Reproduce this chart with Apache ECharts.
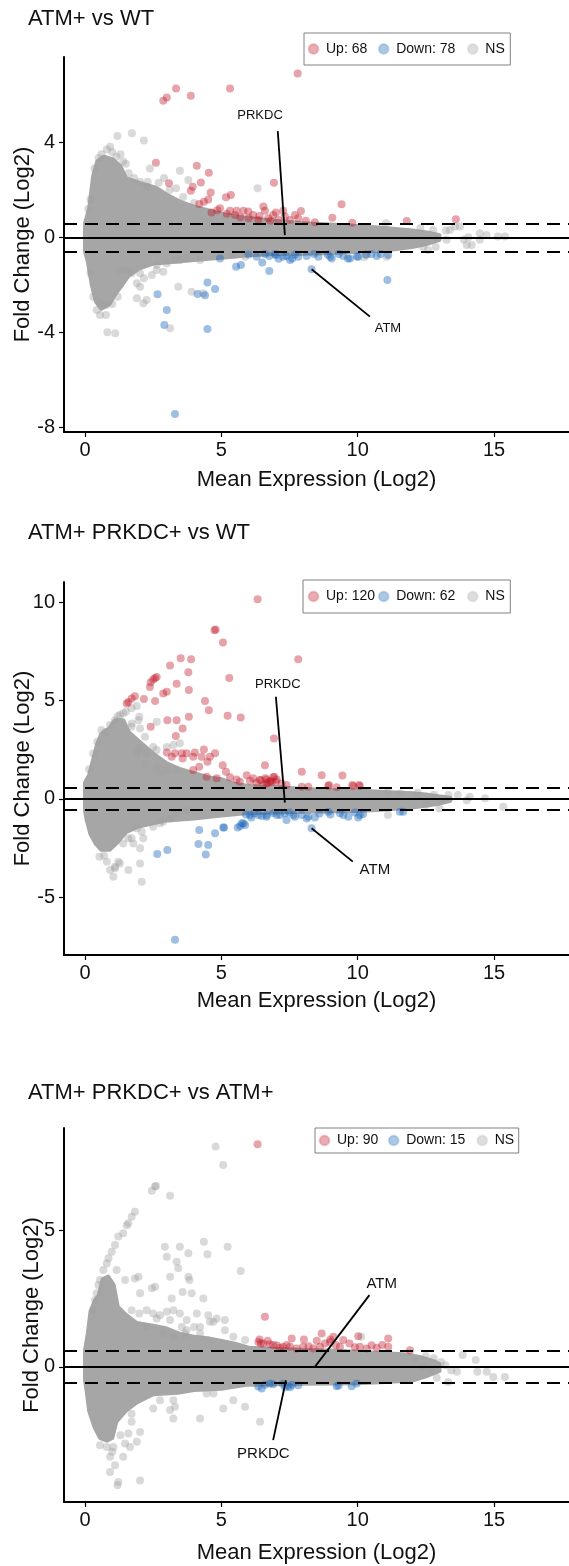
<!DOCTYPE html>
<html>
<head>
<meta charset="utf-8">
<script src="https://cdn.jsdelivr.net/npm/echarts@6/dist/echarts.min.js"></script>
<style>
html,body{margin:0;padding:0;background:#ffffff;}
#chart{width:569px;height:1566px;}
</style>
</head>
<body>
<div id="chart"></div>
<script>
// ---------------- DATA ----------------
const titles = ['ATM+ vs WT', 'ATM+ PRKDC+ vs WT', 'ATM+ PRKDC+ vs ATM+'];
const upLabels = ['Up: 68', 'Up: 120', 'Up: 90'];
const downLabels = ['Down: 78', 'Down: 62', 'Down: 15'];
const nsLabel = 'NS';
const xTicks = [0, 5, 10, 15];
const p1YTicks = [-8, -4, 0, 4];
const p2YTicks = [-5, 0, 5, 10];
const p3YTicks = [0, 5];
const foldThreshold = 0.585;
const geneNames = ['PRKDC', 'ATM'];

// Panel 1: ATM+ vs WT
const p1Up = [[2.87,5.76],[3.0,5.89],[3.34,6.27],[3.88,5.97],[5.32,6.27],[7.8,6.91],
 [2.6,3.15],[4.1,3.02],[4.54,2.73],[3.08,2.28],[4.25,2.32],[6.93,2.31],
 [3.95,2.14],[3.88,1.97],[4.61,1.89],[4.19,1.41],[4.36,1.51],[4.52,1.6],
 [5.17,1.69],[5.35,1.79],[4.64,1.05],[4.95,1.23],
 [5.32,1.13],[5.56,1.13],[5.81,1.13],[5.99,1.09],[6.17,0.95],[6.54,1.3],[6.6,1.13],[6.9,0.95],[7.27,1.13],[7.33,0.88],[7.52,0.74],[7.82,0.81],[7.92,1.12],
 [9.41,1.4],[9.07,0.83],[8.43,0.64],[9.8,0.62],[11.8,0.69],[13.6,0.77],
 [6.0,0.81],[6.36,0.74],[6.72,0.81],[7.09,0.74],[5.5,0.95],[5.7,0.85],[6.4,0.9],[7.0,1.05],[6.8,0.7],[7.7,0.95],[8.1,0.7],[5.2,1.0],[4.85,1.15]];
const p1Down = [[4.95,-0.88],[5.54,-1.23],[5.72,-1.16],[6.3,-0.81],[6.5,-1.05],[6.76,-0.78],[6.97,-0.69],[7.27,-0.81],[7.39,-0.78],[7.52,-0.95],[7.82,-0.81],[8.13,-0.78],[8.31,-1.34],[8.56,-0.81],[9.05,-0.88],[9.47,-0.78],[9.72,-0.88],[10.02,-0.81],[10.7,-0.78],[11.12,-0.74],[11.09,-1.79],
 [2.66,-2.39],[3.0,-3.05],[2.91,-3.68],[3.3,-7.43],[4.13,-2.38],[4.4,-2.43],[4.49,-1.89],[4.77,-2.17],[4.49,-3.85],[6.76,-1.41],
 [6.0,-0.72],[6.6,-0.7],[7.0,-0.75],[7.7,-0.72],[8.4,-0.7],[8.9,-0.72],[9.3,-0.7],[10.3,-0.72],[10.5,-0.7],[7.1,-0.9],[7.6,-0.88],[9.64,-0.88],[9.97,-0.8],[10.84,-0.69],[8.99,-0.81]];
const p1NS = [[1.19,4.27],[1.72,4.39],[2.16,4.08],[0.92,3.82],[3.48,2.81],[3.79,2.42],[6.33,2.07],[3.34,2.07],[2.38,2.91],[2.02,2.35],[2.26,2.14],[1.5,3.1],[1.3,3.5],[0.6,3.5],[0.8,3.7],[2.7,2.3],[3.1,2.0],[3.6,1.7],[4.0,1.45],[2.9,2.5],[1.6,2.7],[1.0,3.6],
 [0.35,2.9],[0.5,3.35],[1.15,3.4],[1.4,3.2],[1.8,2.5],[2.3,2.35],[0.2,1.6],[0.12,1.2],
 [12.77,0.32],[13.38,0.32],[13.75,0.46],[14.06,0.01],[14.18,-0.32],[14.73,0.11],[15.4,0.04],[13.26,-0.1],[13.24,0.29],[12.9,-0.03],[13.56,0.46],[13.89,-0.08],[14.0,-0.32],[14.48,0.18],[14.48,-0.1],[15.14,0.04],[12.58,-0.53],[12.86,-0.39],[10.24,-0.83],[11.04,0.6],[12.3,0.4],[12.4,-0.4],
 [0.82,-3.99],[1.11,-4.03],[0.55,-2.77],[0.77,-2.84],[0.43,-3.05],[0.77,-3.26],[0.55,-3.26],[1.9,-1.93],[2.02,-2.07],[1.9,-2.56],[2.14,-2.77],[2.26,-2.63],[2.45,-1.58],[2.63,-1.37],[2.87,-1.44],[3.42,-2.07],[3.91,-2.28],[4.34,-2.35],[3.12,-3.82],[1.53,-1.37],[1.71,-1.51],[1.28,-1.37],[2.02,-1.51],[2.16,-1.72],[3.48,-0.95],[3.73,-0.88],[4.22,-0.95],[2.63,-1.16],[3.0,-1.09],[3.3,-0.95],[5.44,-0.74],[5.87,-0.81],[10.33,-0.74],[11.06,-0.81],[1.0,-2.8],[1.2,-2.5],[0.3,-2.5],[0.2,-1.5]];
const p1CoreTop = [[0.0,0.6],[0.15,1.2],[0.3,2.6],[0.45,3.2],[0.7,3.4],[1.0,3.3],[1.3,3.0],[1.5,2.5],[2.0,2.3],[2.6,2.1],[3.0,1.8],[3.5,1.5],[4.0,1.3],[4.5,1.15],[5.0,1.0],[5.5,0.9],[6.0,0.82],[7.0,0.7],[8.0,0.6],[9.0,0.55],[10.0,0.48],[11.0,0.4],[12.0,0.3],[12.6,0.2],[13.0,0.1]];
const p1CoreBottom = [[0.0,-0.6],[0.1,-1.0],[0.25,-2.0],[0.4,-2.7],[0.6,-3.0],[0.9,-2.8],[1.1,-2.4],[1.3,-2.1],[1.6,-1.6],[2.0,-1.3],[2.5,-1.1],[3.0,-1.05],[4.0,-0.95],[5.0,-0.85],[6.0,-0.75],[7.0,-0.7],[8.0,-0.68],[9.0,-0.65],[10.0,-0.6],[11.0,-0.55],[12.0,-0.4],[12.6,-0.25],[13.0,-0.1]];
const p1GeneX = [7.33, 8.31];
const p1GeneY = [0.1, -1.34];

// Panel 2: ATM+ PRKDC+ vs WT
const p2Up = [[6.33,10.15],[4.79,8.61],[4.75,8.58],[5.06,7.95],[3.51,7.15],[3.89,7.1],[7.82,7.1],[3.12,6.78],[3.79,6.44],[2.57,6.15],[2.5,6.07],[2.63,6.2],[5.29,6.15],[2.41,5.93],[2.38,5.69],[3.36,5.85],[2.87,5.36],[3.0,5.44],[3.81,5.53],[2.16,5.08],[1.83,5.22],[1.71,5.1],[1.53,4.85],[1.59,4.93],[2.57,4.97],[4.4,4.97],[4.54,4.51],[3.02,4.0],[3.36,4.0],[3.81,4.17],[5.23,4.22],[5.71,4.14],[2.41,3.66],[3.58,3.58],[3.33,3.19],[6.93,3.07],
 [3.0,2.36],[3.3,2.31],[3.55,2.31],[3.73,2.31],[4.03,2.36],[4.36,2.51],[4.77,2.31],[3.18,2.14],[3.58,2.05],[3.97,2.14],[4.28,2.14],[4.58,2.14],
 [4.49,1.88],[4.19,1.63],[3.97,1.46],[5.05,1.71],[5.17,1.37],[6.6,1.7],[7.95,1.37],[8.68,1.2],[9.44,1.19],[4.46,1.12],[4.83,1.04],
 [5.32,1.09],[5.56,0.98],[5.93,1.2],[6.17,1.04],[6.41,0.95],[6.66,0.98],[6.9,1.09],[7.03,0.98],[5.68,0.87],[6.05,0.92],[6.29,0.81],[6.54,0.7],[6.66,0.78],[7.21,0.78],[7.39,0.7],[7.95,0.61],[8.19,0.61],[8.92,0.65],[9.23,0.58],[9.84,0.65],[10.08,0.65],[9.8,0.7],[10.05,0.7],[8.95,0.7],
 [6.45,0.95],[6.61,1.04],[6.78,0.87],[6.94,1.12],[7.0,0.87],[6.8,0.9],[6.85,0.85],[6.7,0.82]];
const p2Down = [[4.19,-1.59],[4.77,-1.76],[5.07,-1.46],[5.69,-1.39],[5.81,-1.25],[5.87,-1.34],[6.48,-0.88],[6.66,-0.91],[7.15,-0.83],[7.39,-1.08],[7.7,-0.91],[8.13,-1.0],[8.31,-1.5],[8.43,-0.95],[9.47,-0.83],[9.66,-0.91],[10.02,-0.95],[10.2,-0.78],[11.67,-0.66],
 [4.16,-2.3],[4.52,-2.35],[4.43,-2.83],[2.65,-2.81],[3.02,-2.61],[5.1,-1.46],[5.6,-1.46],[5.75,-1.25],[3.3,-7.18],
 [6.05,-0.83],[6.36,-0.83],[6.66,-0.83],[7.03,-0.83],[7.33,-0.74],[7.64,-0.83],[7.95,-0.83],[8.19,-0.91],[8.92,-0.66],[9.35,-0.74],[10.08,-0.83],[11.55,-0.66],[6.2,-0.75],[6.9,-0.72],[7.5,-0.7],[8.6,-0.75],[9.0,-0.8],[9.9,-0.7],[5.9,-0.8],[6.1,-0.95]];
const p2NS = [[0.92,3.75],[1.1,4.0],[1.28,4.26],[1.5,4.43],[1.71,4.6],[1.9,4.72],[1.71,3.83],[1.96,4.0],[2.02,3.58],[1.71,3.66],[2.2,3.15],[2.63,3.92],[1.99,4.17],[3.0,2.64],[3.24,2.73],[3.48,2.82],[2.63,2.48],[2.26,2.31],[2.5,2.64],[1.96,2.56],[1.9,2.31],[2.2,1.76],[2.63,1.63],[3.0,1.46],[2.75,1.29],[3.36,1.46],[1.2,4.2],[1.4,4.35],[0.75,3.4],
 [0.3,2.3],[0.45,2.9],[0.6,3.5],[0.15,1.5],
 [0.53,-2.95],[0.8,-3.2],[0.92,-3.62],[1.1,-3.46],[1.28,-3.29],[1.04,-3.97],[1.1,-3.54],[1.59,-2.01],[1.4,-2.27],[2.08,-1.68],[2.14,-2.01],[2.02,-2.52],[2.02,-3.29],[2.08,-4.22],[1.71,-2.01],[1.77,-2.27],[2.5,-1.42],[2.87,-1.17],[3.12,-1.0],[2.75,-1.25],[3.36,-0.74],[3.73,-0.57],[1.59,-3.62],[1.22,-3.2],[0.7,-2.9],[1.9,-1.5],
 [11.11,0.36],[11.56,0.27],[13.0,-0.49],[13.33,0.19],[13.67,0.19],[14.0,-0.07],[14.11,0.1],[14.67,0.02],[15.34,-0.41],[11.11,-0.83],[12.8,0.2],[12.5,-0.3],[13.1,0.0],[12.2,0.3]];
const p2CoreTop = [[0.0,0.8],[0.15,1.2],[0.3,2.0],[0.45,2.8],[0.6,3.3],[0.9,3.6],[1.1,4.0],[1.4,4.0],[1.6,3.4],[2.0,2.9],[2.5,2.3],[3.0,1.8],[3.5,1.5],[4.0,1.3],[4.5,1.1],[5.0,1.0],[5.5,0.75],[6.0,0.65],[7.0,0.6],[8.0,0.5],[9.0,0.45],[10.0,0.42],[11.0,0.35],[12.0,0.28],[12.5,0.22],[13.0,0.12],[13.4,0.05]];
const p2CoreBottom = [[0.0,-0.6],[0.05,-1.0],[0.2,-1.8],[0.4,-2.3],[0.6,-2.6],[0.9,-2.6],[1.2,-2.2],[1.5,-1.7],[2.0,-1.4],[3.0,-1.1],[4.0,-1.0],[5.0,-0.85],[6.0,-0.72],[8.0,-0.66],[10.0,-0.62],[11.0,-0.55],[12.0,-0.45],[13.0,-0.25],[13.4,-0.1]];
const p2GeneX = [7.33, 8.31];
const p2GeneY = [-0.2, -1.5];

// Panel 3: ATM+ PRKDC+ vs ATM+
const p3Up = [[6.33,8.14],[6.6,1.83],[6.36,0.91],[6.54,0.85],[6.78,0.83],[7.03,0.79],[7.27,0.73],[7.52,0.73],[7.58,1.04],[8.0,0.73],[8.03,1.0],[8.68,1.22],[8.98,0.91],[9.11,1.1],[9.47,0.98],[10.02,1.12],[10.08,0.73],[10.51,0.79],[11.12,1.04],[11.12,0.73],[11.92,0.61],[9.35,0.73],[8.62,0.73],[10.33,0.67],[7.76,0.67],[8.37,0.67],
 [6.45,0.85],[6.9,0.8],[7.15,0.7],[7.4,0.8],[8.2,0.75],[8.8,0.85],[9.2,0.8],[9.7,0.85],[9.9,0.72],[10.7,0.7],[10.9,0.8],[8.5,0.95],[9.0,1.0],[6.4,1.0],[6.7,0.95]];
const p3Down = [[6.48,-0.79],[6.78,-0.61],[7.33,-0.75],[7.52,-0.75],[7.82,-0.67],[9.23,-0.71],[9.78,-0.71],[9.96,-0.61],[6.35,-0.72],[6.6,-0.65],[7.45,-0.7],[7.6,-0.65],[9.3,-0.68],[7.25,-0.62],[6.9,-0.64]];
const p3NS = [[4.79,8.05],[5.07,7.38],[2.57,6.59],[2.45,6.44],[2.6,6.61],[3.12,6.25],
 [1.83,5.67],[1.71,5.49],[1.59,5.25],[1.53,5.18],[1.4,4.88],[1.22,4.76],[1.1,4.45],[0.98,4.21],[0.86,3.97],[0.8,3.78],[0.67,3.54],[0.55,3.17],[0.49,2.99],[0.43,2.69],[0.37,2.44],[0.28,2.07],
 [2.93,4.39],[3.48,4.39],[3.79,4.15],[3.0,4.02],[3.36,3.84],[3.42,3.6],[3.12,3.29],[3.79,3.29],[3.83,3.17],[3.58,2.74],[3.91,2.69],[3.18,2.5],[4.36,4.57],[4.49,4.12],[5.23,4.39],[5.71,3.5],[4.34,2.5],[1.16,3.54],[1.47,3.17],[1.83,3.23],[1.96,3.29],[2.02,2.69],[2.45,2.87],[2.57,2.93],[1.71,2.07],[1.99,1.95],[2.26,2.07],[2.5,1.95],[2.75,1.89],[3.24,2.07],[4.22,1.46],[4.71,1.65],[5.13,1.71],[4.52,1.89],[3.12,1.71],[3.55,1.46],[4.0,1.46],[2.87,1.22],[3.67,1.22],
 [3.48,1.95],[3.73,1.71],[4.1,1.95],[4.58,1.65],[4.83,1.77],[4.22,1.22],[3.24,1.1],[2.26,1.46],[2.63,1.77],[3.0,2.01],[5.44,1.1],[5.87,0.98],[5.13,1.34],[3.73,1.34],
 [0.55,-2.87],[0.8,-2.93],[1.04,-2.93],[0.92,-3.29],[1.1,-3.6],[0.92,-3.84],[1.19,-4.33],[1.22,-4.21],[2.02,-4.15],[1.4,-3.29],[1.65,-2.93],[1.9,-2.74],[1.47,-2.8],[1.59,-2.44],[1.71,-2.01],[1.71,-1.71],[2.02,-2.38],[2.5,-1.52],[3.24,-1.22],[3.12,-1.58],[3.3,-1.46],[2.75,-1.22],[4.22,-1.89],[3.24,-1.89],[5.07,-1.52],[5.87,-1.46],[6.42,-2.01],[5.44,-1.22],[4.46,-0.97],[4.71,-0.97],[1.3,-2.5],[1.0,-3.1],
 [12.1,0.25],[12.37,0.0],[12.68,-0.12],[13.06,0.18],[13.32,-0.55],[13.64,-0.18],[13.85,0.43],[14.33,0.25],[14.39,-0.18],[14.97,-0.37],[13.22,0.06],[12.79,0.31],[10.13,1.1],[13.43,-0.12],[14.73,-0.18],[15.4,-0.37],[12.5,0.4],[12.9,-0.4]];
const p3CoreTop = [[0.0,0.6],[0.1,1.2],[0.2,2.0],[0.35,2.4],[0.5,2.6],[0.65,3.2],[0.85,3.3],[1.05,3.0],[1.2,2.2],[1.5,1.9],[1.9,1.6],[2.5,1.5],[3.0,1.4],[3.5,1.2],[4.0,1.1],[4.5,1.05],[5.0,0.95],[5.5,0.85],[6.0,0.7],[7.0,0.65],[8.0,0.62],[9.0,0.6],[10.0,0.55],[11.0,0.5],[11.8,0.45],[12.3,0.35],[12.8,0.2],[13.0,0.1]];
const p3CoreBottom = [[0.0,-0.5],[0.05,-0.8],[0.15,-1.6],[0.35,-2.2],[0.55,-2.6],[0.8,-2.7],[1.0,-2.6],[1.15,-2.0],[1.5,-1.6],[1.9,-1.3],[2.5,-1.0],[3.4,-0.95],[4.0,-0.85],[5.0,-0.8],[5.5,-0.72],[6.0,-0.65],[8.0,-0.62],[10.0,-0.6],[11.0,-0.55],[12.0,-0.5],[12.5,-0.35],[13.0,-0.15]];
const p3GeneX = [7.37, 8.43];
const p3GeneY = [-0.49, 0.0];

// ---------------- LAYOUT & STYLE ----------------
const FONT = '"Liberation Sans", Arial, Helvetica, sans-serif';
const INK = '#111111';
const X_MIN = -0.77, X_MAX = 17.75;
const COL_NS = 'rgba(160,160,160,0.5)';
const COL_CORE = '#a6a6a6';
const COL_UP = 'rgba(192,25,42,0.5)';
const COL_DOWN = 'rgba(25,100,185,0.52)';

const panels = [
  { up: p1Up, down: p1Down, ns: p1NS, coreTop: p1CoreTop, coreBottom: p1CoreBottom,
    geneX: p1GeneX, geneY: p1GeneY, yTicks: p1YTicks,
    yMin: -8.19, yMax: 7.6, gridTop: 57, gridHeight: 375, titleTop: 8,
    legend: { left: 304, top: 33, padding: [9, 5, 9, 3.5], widths: [51.7, 70.6, 20] },
    xNameGap: 37, yNameGap: 30,
    // leader line end and label centre for each gene (data units)
    lineEnd: [[7.07, 4.48], [10.45, -3.33]], labelAt: [[6.42, 5.16], [11.11, -3.81]], labelFont: [13, 13] },
  { up: p2Up, down: p2Down, ns: p2NS, coreTop: p2CoreTop, coreBottom: p2CoreBottom,
    geneX: p2GeneX, geneY: p2GeneY, yTicks: p2YTicks,
    yMin: -7.95, yMax: 11.03, gridTop: 582, gridHeight: 373, titleTop: 522,
    legend: { left: 303, top: 580, padding: [9.5, 5, 9.5, 4.5], widths: [51.7, 70.6, 20] },
    xNameGap: 35, yNameGap: 30,
    lineEnd: [[7.0, 5.19], [9.82, -3.2]], labelAt: [[7.07, 5.82], [10.63, -3.62]], labelFont: [13, 15] },
  { up: p3Up, down: p3Down, ns: p3NS, coreTop: p3CoreTop, coreBottom: p3CoreBottom,
    geneX: p3GeneX, geneY: p3GeneY, yTicks: p3YTicks,
    yMin: -4.94, yMax: 8.73, gridTop: 1128, gridHeight: 374, titleTop: 1082,
    legend: { left: 315, top: 1128, padding: [5.5, 4, 5.5, 3.5], widths: [50.7, 70, 20] },
    xNameGap: 40, yNameGap: 21,
    lineEnd: [[6.9, -2.68], [10.43, 2.62]], labelAt: [[6.54, -3.17], [10.88, 3.05]], labelFont: [15, 15] }
];

const option = {
  animation: false,
  backgroundColor: '#ffffff',
  title: [], legend: [], grid: [], xAxis: [], yAxis: [], series: []
};

function legendIcon(rgb) {
  return { color: 'rgba(' + rgb + ',0.45)', borderColor: 'rgba(' + rgb + ',0.22)', borderWidth: 2 };
}

panels.forEach((p, i) => {
  option.title.push({
    text: titles[i], left: 28, top: p.titleTop, padding: 0,
    textStyle: { fontFamily: FONT, fontSize: 22, fontWeight: 'normal', color: INK }
  });
  option.legend.push({
    left: p.legend.left, top: p.legend.top, padding: p.legend.padding,
    orient: 'horizontal', itemWidth: 15, itemHeight: 10, itemGap: 0,
    borderColor: '#808080', borderWidth: 1, selectedMode: false,
    textStyle: { fontFamily: FONT, fontSize: 14, color: INK, lineHeight: 14 },
    data: [
      { name: upLabels[i], icon: 'circle', itemStyle: legendIcon('192,25,42'), textStyle: { width: p.legend.widths[0] } },
      { name: downLabels[i], icon: 'circle', itemStyle: legendIcon('25,100,185'), textStyle: { width: p.legend.widths[1] } },
      { name: nsLabel, icon: 'circle', itemStyle: legendIcon('160,160,160'), textStyle: { width: p.legend.widths[2] } }
    ]
  });
  option.grid.push({ left: 64, right: 0, top: p.gridTop, height: p.gridHeight, containLabel: false, outerBoundsMode: 'none' });
  option.xAxis.push({
    type: 'value', gridIndex: i, min: X_MIN, max: X_MAX,
    name: 'Mean Expression (Log2)', nameLocation: 'middle', nameGap: p.xNameGap, nameMoveOverlap: false,
    nameTextStyle: { fontFamily: FONT, fontSize: 22, color: INK },
    axisLine: { show: true, onZero: false, lineStyle: { color: '#000', width: 2 } },
    axisTick: { show: true, length: 5, customValues: xTicks, lineStyle: { color: '#000', width: 1.2 } },
    axisLabel: { customValues: xTicks, margin: 8, fontFamily: FONT, fontSize: 20, color: INK },
    splitLine: { show: false }
  });
  option.yAxis.push({
    type: 'value', gridIndex: i, min: p.yMin, max: p.yMax,
    name: 'Fold Change (Log2)', nameLocation: 'middle', nameGap: p.yNameGap, nameMoveOverlap: false,
    nameTextStyle: { fontFamily: FONT, fontSize: 22, color: INK },
    axisLine: { show: true, onZero: false, lineStyle: { color: '#000', width: 2 } },
    axisTick: { show: true, length: 5, customValues: p.yTicks, lineStyle: { color: '#000', width: 1.2 } },
    axisLabel: { customValues: p.yTicks, margin: 9, fontFamily: FONT, fontSize: 20, color: INK },
    splitLine: { show: false }
  });

  // dense core of the non-significant cloud (envelope)
  const top = p.coreTop, bottom = p.coreBottom;
  option.series.push({
    type: 'custom', name: 'NS core', xAxisIndex: i, yAxisIndex: i, z: 1, silent: true,
    data: [[top[0][0], top[0][1]]],
    renderItem: function (params, api) {
      const pts = top.map(d => api.coord(d)).concat(bottom.slice().reverse().map(d => api.coord(d)));
      return { type: 'polygon', shape: { points: pts },
        style: { fill: COL_CORE, stroke: COL_CORE, lineWidth: 4, lineJoin: 'round' } };
    }
  });
  option.series.push({
    type: 'scatter', name: nsLabel, xAxisIndex: i, yAxisIndex: i, z: 2, silent: true,
    symbolSize: 8, data: p.ns, itemStyle: { color: COL_NS }
  });
  option.series.push({
    type: 'scatter', name: upLabels[i], xAxisIndex: i, yAxisIndex: i, z: 3, silent: true,
    symbolSize: 8, data: p.up, itemStyle: { color: COL_UP },
    markLine: {
      silent: true, symbol: ['none', 'none'], label: { show: false }, z: 6,
      data: [
        { yAxis: 0, lineStyle: { type: 'solid', color: '#000', width: 1.8 } },
        { yAxis: foldThreshold, lineStyle: { type: [13, 8], color: '#000', width: 2 } },
        { yAxis: -foldThreshold, lineStyle: { type: [13, 8], color: '#000', width: 2 } }
      ]
    }
  });
  option.series.push({
    type: 'scatter', name: downLabels[i], xAxisIndex: i, yAxisIndex: i, z: 3, silent: true,
    symbolSize: 8, data: p.down, itemStyle: { color: COL_DOWN }
  });
  // gene annotations
  const annData = geneNames.map((g, k) => [p.geneX[k], p.geneY[k], p.lineEnd[k][0], p.lineEnd[k][1], p.labelAt[k][0], p.labelAt[k][1]]);
  option.series.push({
    type: 'custom', name: 'genes', xAxisIndex: i, yAxisIndex: i, z: 10, silent: true, clip: false,
    encode: { x: 0, y: 1 },
    data: annData,
    renderItem: function (params, api) {
      const a = api.coord([api.value(0), api.value(1)]);
      const b = api.coord([api.value(2), api.value(3)]);
      const t = api.coord([api.value(4), api.value(5)]);
      return { type: 'group', children: [
        { type: 'line', shape: { x1: a[0], y1: a[1], x2: b[0], y2: b[1] }, style: { stroke: '#000', lineWidth: 1.8 } },
        { type: 'text', x: t[0], y: t[1], style: { text: geneNames[params.dataIndex], fontFamily: FONT,
          fontSize: p.labelFont[params.dataIndex], fill: INK, align: 'center', verticalAlign: 'middle' } }
      ] };
    }
  });
});

const chart = echarts.init(document.getElementById('chart'), null, { renderer: 'canvas' });
chart.setOption(option);
</script>
</body>
</html>
